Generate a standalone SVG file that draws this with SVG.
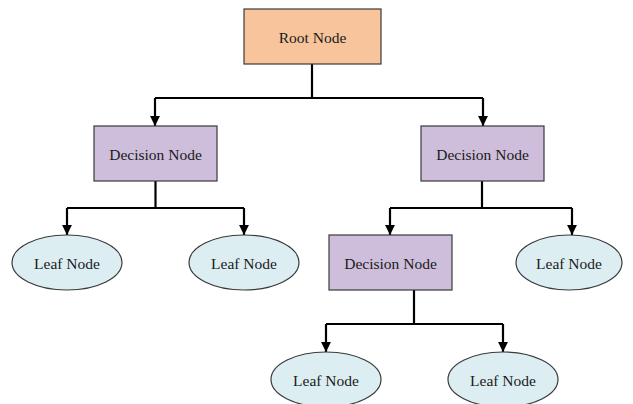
<svg xmlns="http://www.w3.org/2000/svg" width="633" height="404" viewBox="0 0 633 404">
<style>
.box{stroke:#3a3a3a;stroke-width:1.2}
.root{fill:#F8C49B}
.dec{fill:#CEBEDB}
.leaf{fill:#DDEEF3;stroke:#3a3a3a;stroke-width:1.2}
.lbl{font-family:"Liberation Serif","Times New Roman",serif;font-size:15.5px;fill:#1a1a1a;text-anchor:middle;dominant-baseline:central}
.edge{fill:none;stroke:#000;stroke-width:2.2}
</style>
<defs>
<marker id="ah" viewBox="0 0 10 10" refX="10" refY="5" markerWidth="4.5" markerHeight="4.5" markerUnits="strokeWidth" orient="auto">
<path d="M0,0 L10,5 L0,10 z" fill="#000"/>
</marker>
</defs>
<rect width="633" height="404" fill="#fff"/>
<g id="connectors">
<path class="edge" d="M312,64 V98"/>
<path class="edge" d="M155,98 H483"/>
<path class="edge" d="M155,98 V126" marker-end="url(#ah)"/>
<path class="edge" d="M483,98 V126" marker-end="url(#ah)"/>
<path class="edge" d="M155.5,181 V208"/>
<path class="edge" d="M67,208 H244"/>
<path class="edge" d="M67,208 V235" marker-end="url(#ah)"/>
<path class="edge" d="M244,208 V235" marker-end="url(#ah)"/>
<path class="edge" d="M482,181 V208"/>
<path class="edge" d="M390,208 H572"/>
<path class="edge" d="M390,208 V235" marker-end="url(#ah)"/>
<path class="edge" d="M572,208 V235" marker-end="url(#ah)"/>
<path class="edge" d="M414,290 V324"/>
<path class="edge" d="M326,324 H503"/>
<path class="edge" d="M326,324 V352" marker-end="url(#ah)"/>
<path class="edge" d="M503,324 V352" marker-end="url(#ah)"/>
</g>
<g id="root">
<rect class="box root" x="244" y="9" width="137" height="55"/>
<text class="lbl" x="312.5" y="37">Root Node</text>
</g>
<g id="decision1">
<rect class="box dec" x="94" y="126" width="123" height="55"/>
<text class="lbl" x="155.5" y="154">Decision Node</text>
</g>
<g id="decision2">
<rect class="box dec" x="421" y="126" width="123" height="55"/>
<text class="lbl" x="482.5" y="154">Decision Node</text>
</g>
<g id="decision3">
<rect class="box dec" x="329" y="235" width="123" height="55"/>
<text class="lbl" x="390.5" y="263">Decision Node</text>
</g>
<g id="leaf1">
<ellipse class="leaf" cx="67" cy="262.5" rx="55" ry="27.5"/>
<text class="lbl" x="67" y="263">Leaf Node</text>
</g>
<g id="leaf2">
<ellipse class="leaf" cx="244" cy="262.5" rx="55" ry="27.5"/>
<text class="lbl" x="244" y="263">Leaf Node</text>
</g>
<g id="leaf3">
<ellipse class="leaf" cx="569" cy="262.5" rx="53" ry="27.5"/>
<text class="lbl" x="569" y="263">Leaf Node</text>
</g>
<g id="leaf4">
<ellipse class="leaf" cx="326" cy="379.5" rx="55" ry="27.5"/>
<text class="lbl" x="326" y="380">Leaf Node</text>
</g>
<g id="leaf5">
<ellipse class="leaf" cx="503" cy="379.5" rx="55" ry="27.5"/>
<text class="lbl" x="503" y="380">Leaf Node</text>
</g>
</svg>
